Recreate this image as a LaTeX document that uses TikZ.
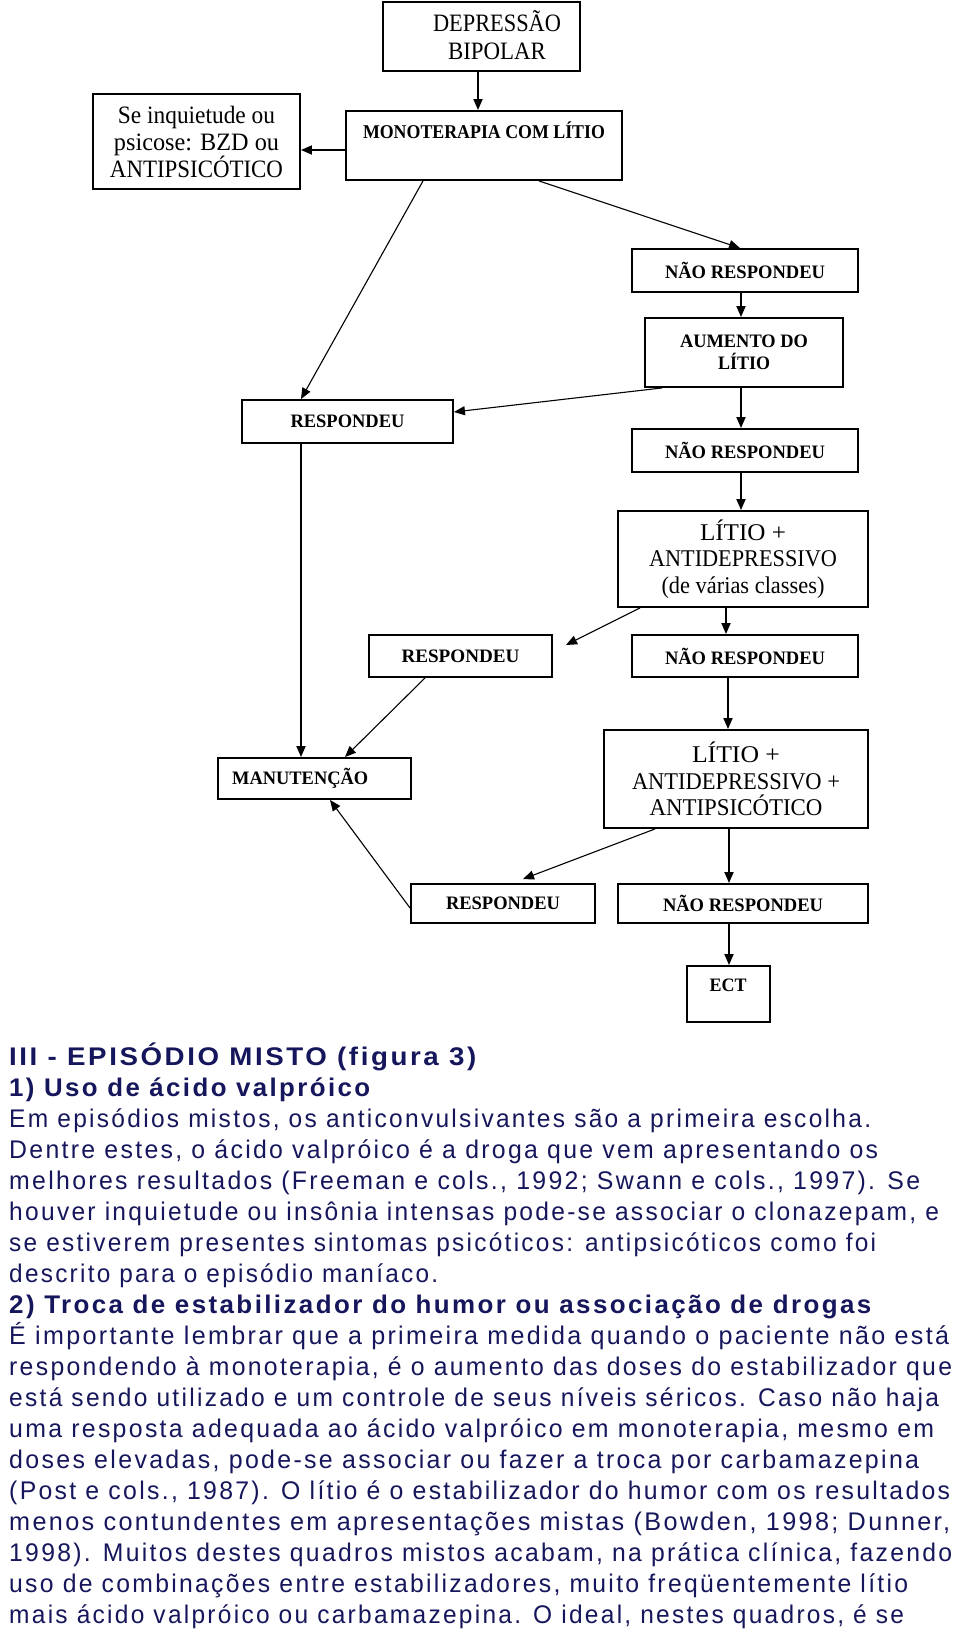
\documentclass[tikz,border=0pt]{standalone}
\usepackage{fontspec}
\usepackage{graphicx}
\usetikzlibrary{arrows.meta,calc}
\newfontfamily\bodyf[FakeStretch=0.86,LetterSpace=8]{Liberation Sans}
\newfontfamily\flowf[FakeStretch=0.85]{Liberation Serif}
\definecolor{navy}{RGB}{22,22,92}
\newcommand\fitw[2]{\resizebox{#1pt}{\height}{#2}}
\begin{document}
\begin{tikzpicture}[x=1pt,y=-1pt,
  box/.style={draw=black, line width=1.9pt, rectangle, inner sep=0pt, align=center},
  lbl/.style={inner sep=0pt, align=center},
  sm/.style={font=\flowf\bfseries\fontsize{19}{22}\selectfont},
  big/.style={font=\flowf\fontsize{24}{26.5}\selectfont},
  arr/.style={line width=1.8pt, -{Triangle[length=11pt,width=9pt]}},
  thin/.style={line width=1.1pt, -{Triangle[length=11pt,width=9pt]}},
  para/.style={inner sep=0pt, anchor=base west, text=navy, font=\bodyf\fontsize{25.5}{31}\selectfont}]
\fill[white] (0,0) rectangle (960,1640);
\useasboundingbox (0,0) rectangle (960,1640);

% boxes
\node[box, minimum width=197pt, minimum height=69pt] (dep) at (481.5,36.5) {};
\node[lbl, font=\flowf\fontsize{25}{28}\selectfont] (deplbl) at (497,35) {\fitw{128}{DEPRESSÃO}\\\fitw{98}{BIPOLAR}};
\node[box, minimum width=207pt, minimum height=95pt, font=\flowf\fontsize{25}{27}\selectfont] (se) at (196.5,141.5) {\fitw{157}{Se inquietude ou}\\\fitw{165}{psicose: BZD ou}\\\fitw{173}{ANTIPSICÓTICO}};
\node[box, minimum width=276pt, minimum height=69pt] (mono) at (484,145.5) {};
\node[lbl, font=\flowf\bfseries\fontsize{19.5}{22}\selectfont] (monolbl) at (484,130.5) {\fitw{242}{MONOTERAPIA COM LÍTIO}};
\node[box, sm, minimum width=226pt, minimum height=43pt] (nr1) at (745,270.5) {\fitw{160}{NÃO RESPONDEU}};
\node[box, sm, minimum width=198pt, minimum height=69pt] (aum) at (744,352.5) {\fitw{128}{AUMENTO DO}\\\fitw{52}{LÍTIO}};
\node[box, sm, minimum width=211pt, minimum height=43pt] (resp1) at (347.5,421.5) {\fitw{114}{RESPONDEU}};
\node[box, sm, minimum width=226pt, minimum height=43pt] (nr2) at (745,450.5) {\fitw{160}{NÃO RESPONDEU}};
\node[box, big, minimum width=250pt, minimum height=96pt] (lad) at (743,559) {\fitw{86}{LÍTIO +}\\\fitw{188}{ANTIDEPRESSIVO}\\\fitw{163}{(de várias classes)}};
\node[box, sm, minimum width=183pt, minimum height=42pt] (resp2) at (460.5,656) {\fitw{118}{RESPONDEU}};
\node[box, sm, minimum width=226pt, minimum height=42pt] (nr3) at (745,656) {\fitw{160}{NÃO RESPONDEU}};
\node[box, minimum width=193pt, minimum height=41pt] (man) at (314.5,778.5) {};
\node[lbl, sm, anchor=west] (manlbl) at (232,778) {\fitw{136}{MANUTENÇÃO}};
\node[box, big, minimum width=264pt, minimum height=98pt] (ladap) at (736,779) {\fitw{88}{LÍTIO +}\\\fitw{208}{ANTIDEPRESSIVO +}\\\fitw{173}{ANTIPSICÓTICO}};
\node[box, sm, minimum width=184pt, minimum height=39pt] (resp3) at (503,903.5) {\fitw{114}{RESPONDEU}};
\node[box, sm, minimum width=250pt, minimum height=39pt] (nr4) at (743,903.5) {\fitw{160}{NÃO RESPONDEU}};
\node[box, minimum width=83pt, minimum height=56pt] (ect) at (728.5,994) {};
\node[lbl, sm] (ectlbl) at (728,985) {\fitw{37}{ECT}};

% connectors
\draw[arr] ($(dep.south)+(-3.5,0)$) -- ($(mono.north)+(-6,0)$);
\draw[arr] ($(mono.west)+(0,4.5)$) -- ($(se.east)+(0,8.5)$);
\draw[thin] ($(mono.south)+(-61,0)$) -- ($(resp1.north)+(-46.5,0)$);
\draw[thin] ($(mono.south)+(55,0)$) -- ($(nr1.north)+(-5,0)$);
\draw[arr] ($(nr1.south)+(-4,0)$) -- ($(aum.north)+(-3,0)$);
\draw[thin] ($(aum.south)+(-82,0)$) -- ($(resp1.east)+(0,-9.5)$);
\draw[arr] ($(aum.south)+(-3,0)$) -- ($(nr2.north)+(-4,0)$);
\draw[arr] ($(resp1.south)+(-46.5,0)$) -- ($(man.north)+(-13.5,0)$);
\draw[arr] ($(nr2.south)+(-4,0)$) -- ($(lad.north)+(-2,0)$);
\draw[thin] ($(lad.south)+(-103,0)$) -- ($(resp2.east)+(13,-11)$);
\draw[arr] ($(lad.south)+(-17,0)$) -- ($(nr3.north)+(-19,0)$);
\draw[thin] ($(resp2.south)+(-35.5,0)$) -- ($(man.north)+(30.5,0)$);
\draw[arr] ($(nr3.south)+(-17,0)$) -- ($(ladap.north)+(-8,0)$);
\draw[thin] ($(ladap.south)+(-81,0)$) -- ($(resp3.north)+(20,-4)$);
\draw[arr] ($(ladap.south)+(-7,0)$) -- ($(nr4.north)+(-14,0)$);
\draw[thin] ($(resp3.west)+(0,4.5)$) -- ($(man.south)+(15.5,0)$);
\draw[arr] ($(nr4.south)+(-14,0)$) -- ($(ect.north)+(0.5,0)$);

% text
\node[para] (t1) at (9,1065) {\fitw{467}{\bfseries III - EPISÓDIO MISTO (figura 3)}};
\node[para] (t2) at (9,1096) {\fitw{361}{\bfseries 1) Uso de ácido valpróico}};
\node[para] (t3) at (9,1127) {\fitw{862}{Em episódios mistos, os anticonvulsivantes são a primeira escolha.}};
\node[para] (t4) at (9,1158) {\fitw{869}{Dentre estes, o ácido valpróico é a droga que vem apresentando os}};
\node[para] (t5) at (9,1189) {\fitw{911}{melhores resultados (Freeman e cols., 1992; Swann e cols., 1997). Se}};
\node[para] (t6) at (9,1220) {\fitw{930}{houver inquietude ou insônia intensas pode-se associar o clonazepam, e}};
\node[para] (t7) at (9,1251) {\fitw{867}{se estiverem presentes sintomas psicóticos: antipsicóticos como foi}};
\node[para] (t8) at (9,1282) {\fitw{429}{descrito para o episódio maníaco.}};
\node[para] (t9) at (9,1313) {\fitw{862}{\bfseries 2) Troca de estabilizador do humor ou associação de drogas}};
\node[para] (t10) at (9,1344) {\fitw{940}{É importante lembrar que a primeira medida quando o paciente não está}};
\node[para] (t11) at (9,1375) {\fitw{943}{respondendo à monoterapia, é o aumento das doses do estabilizador que}};
\node[para] (t12) at (9,1406) {\fitw{930}{está sendo utilizado e um controle de seus níveis séricos. Caso não haja}};
\node[para] (t13) at (9,1437) {\fitw{925}{uma resposta adequada ao ácido valpróico em monoterapia, mesmo em}};
\node[para] (t14) at (9,1468) {\fitw{910}{doses elevadas, pode-se associar ou fazer a troca por carbamazepina}};
\node[para] (t15) at (9,1499) {\fitw{941}{(Post e cols., 1987). O lítio é o estabilizador do humor com os resultados}};
\node[para] (t16) at (9,1530) {\fitw{941}{menos contundentes em apresentações mistas (Bowden, 1998; Dunner,}};
\node[para] (t17) at (9,1561) {\fitw{943}{1998). Muitos destes quadros mistos acabam, na prática clínica, fazendo}};
\node[para] (t18) at (9,1592) {\fitw{899}{uso de combinações entre estabilizadores, muito freqüentemente lítio}};
\node[para] (t19) at (9,1623) {\fitw{895}{mais ácido valpróico ou carbamazepina. O ideal, nestes quadros, é se}};
\end{tikzpicture}
\end{document}
